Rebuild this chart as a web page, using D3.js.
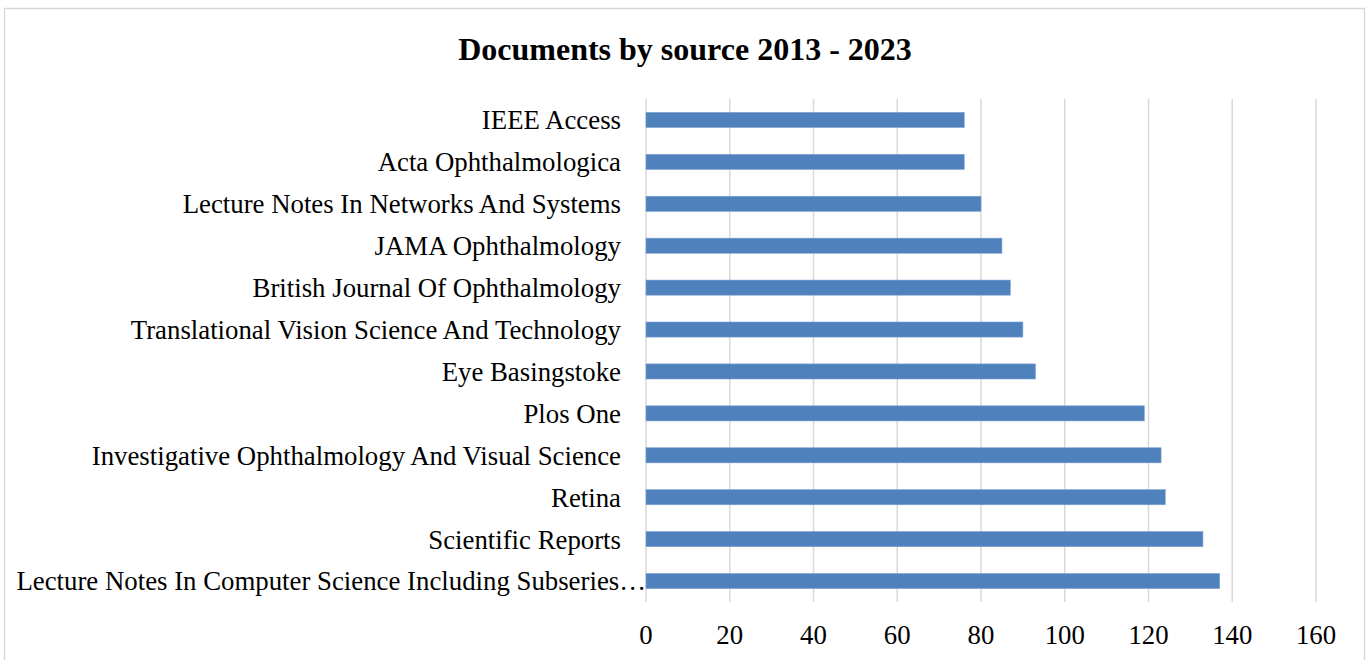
<!DOCTYPE html>
<head>
	<meta charset="utf-8">
	<style>
		body {margin: 0; background: #fff;}
		.bar {fill: #4f81bd; stroke: #7aa0d0; stroke-width: 0.6}
		text {font-family: "Liberation Serif", "Times New Roman", serif; fill: #000}
	</style>
	<script src="https://d3js.org/d3.v7.min.js" charset="utf-8"></script>
</head>
<body>
	<script>
		var sources = ["IEEE Access", "Acta Ophthalmologica", "Lecture Notes In Networks And Systems",
			"JAMA Ophthalmology", "British Journal Of Ophthalmology",
			"Translational Vision Science And Technology", "Eye Basingstoke", "Plos One",
			"Investigative Ophthalmology And Visual Science", "Retina", "Scientific Reports",
			"Lecture Notes In Computer Science Including Subseries…"];
		var documents = [76, 76, 80, 85, 87, 90, 93, 119, 123, 124, 133, 137];
		var ticks = [0, 20, 40, 60, 80, 100, 120, 140, 160];
		var title = "Documents by source 2013 - 2023";

		var width = 1366, height = 660;
		var plot = {left: 646, right: 1316, top: 99, bottom: 602};

		var svg = d3.select("body").append("svg")
			.attr("width", width)
			.attr("height", height);

		// outer frame
		svg.append("rect")
			.attr("x", 4.5).attr("y", 8.5)
			.attr("width", 1360).attr("height", 660)
			.attr("fill", "none")
			.attr("stroke", "#d9d9d9")
			.attr("stroke-width", 1.5);

		svg.append("text")
			.attr("x", 685).attr("y", 60)
			.attr("text-anchor", "middle")
			.attr("font-size", "32px")
			.attr("font-weight", "bold")
			.text(title);

		var x = d3.scaleLinear().domain([0, 160]).range([plot.left, plot.right]);
		var y = d3.scaleBand().domain(sources).range([plot.top, plot.bottom]).paddingInner(0.64).paddingOuter(0.32);

		// gridlines
		svg.append("g").selectAll("line")
			.data(ticks)
			.enter()
			.append("line")
			.attr("x1", function(d){return x(d);})
			.attr("x2", function(d){return x(d);})
			.attr("y1", plot.top)
			.attr("y2", plot.bottom)
			.attr("stroke", "#d9d9d9")
			.attr("stroke-width", 1.5);

		svg.append("g").selectAll("rect")
			.data(documents)
			.enter()
			.append("rect")
			.attr("class", "bar")
			.attr("x", x(0))
			.attr("y", function(d, i){return y(sources[i]);})
			.attr("width", function(d){return x(d) - x(0);})
			.attr("height", y.bandwidth());

		// category labels, the truncated one runs up to the axis
		svg.append("g").selectAll("text")
			.data(sources)
			.enter()
			.append("text")
			.attr("x", function(d){return d.endsWith("…") ? plot.left : plot.left - 25;})
			.attr("y", function(d){return y(d) + y.bandwidth() / 2;})
			.attr("dy", "0.35em")
			.attr("text-anchor", "end")
			.attr("font-size", "26.8px")
			.text(function(d){return d;});

		// tick labels
		svg.append("g").selectAll("text")
			.data(ticks)
			.enter()
			.append("text")
			.attr("x", function(d){return x(d);})
			.attr("y", 644)
			.attr("text-anchor", "middle")
			.attr("font-size", "26.8px")
			.text(function(d){return d;});
	</script>
</body>
</html>
